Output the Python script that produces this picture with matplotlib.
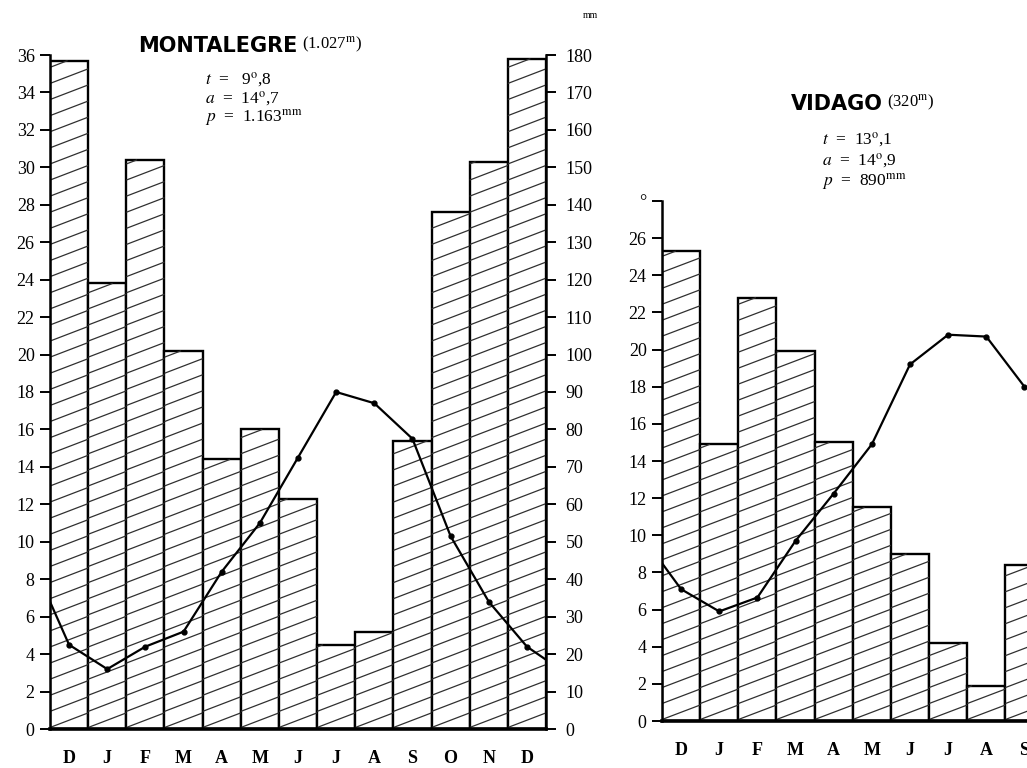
import numpy as np
import matplotlib
matplotlib.use('Agg')
import matplotlib.pyplot as plt
from matplotlib.collections import LineCollection

plt.rcParams['font.family'] = ['Liberation Serif', 'DejaVu Serif']
plt.rcParams['mathtext.fontset'] = 'stix'

# ── Data ────────────────────────────────────────────────────────────────────
MONTHS = ['D', 'J', 'F', 'M', 'A', 'M', 'J', 'J', 'A', 'S', 'O', 'N', 'D']
MM_PER_DEG = 5  # 1 °C on the left scale = 5 mm on the rain scale

# Montalegre: monthly rain (mm) and mean temperature (°C), D..D
mont_precip_mm = [178.5, 119, 152, 101, 72, 80, 61.5, 22.5, 26, 77, 138, 151.5, 179]
mont_temp = [4.5, 3.2, 4.4, 5.2, 8.4, 11.0, 14.5, 18.0, 17.4, 15.5, 10.3, 6.8, 4.4]
mont_temp_start = 6.8   # where the curve meets the left axis
mont_temp_end = 3.7     # where the curve meets the right axis

# Vidago: only D..S are inside the page
vid_precip_mm = [126.5, 74.5, 114, 99.5, 75, 57.5, 45, 21, 9.5, 42]
vid_temp = [7.1, 5.9, 6.65, 9.7, 12.25, 14.9, 19.2, 20.8, 20.7, 18.0]
vid_temp_start = 8.5

W, H = 1027, 768


def px_axes(fig, left, right, top, bottom):
    """Axes placed by pixel box (origin top-left)."""
    return fig.add_axes([left / W, 1 - bottom / H, (right - left) / W, (bottom - top) / H])


def hatch_bar(ax, bar, slope=0.78, step=0.86):
    """Shallow diagonal hatching, cut to the bar rectangle by hand."""
    x0, y0 = bar.get_x(), bar.get_y()
    w, h = bar.get_width(), bar.get_height()
    segs = []
    for o in np.arange(-w * slope, h, step):
        # line: y = y0 + o + slope * (x - x0)
        xa = x0 + max(0.0, -o / slope)
        xb = x0 + min(w, (h - o) / slope)
        if xb > xa:
            segs.append([(xa, y0 + o + slope * (xa - x0)),
                         (xb, y0 + o + slope * (xb - x0))])
    lc = LineCollection(segs, colors='#303030', linewidths=0.9, zorder=2.5)
    ax.add_collection(lc)


def draw_panel(ax, precip_mm, temps, t_start, t_end, ymax, tick_labels):
    n = len(precip_mm)
    x = np.arange(n)
    heights = np.array(precip_mm) / MM_PER_DEG
    bars = ax.bar(x, heights, width=1.0, facecolor='white', edgecolor='black',
                  linewidth=1.7, zorder=2)
    for b in bars:
        hatch_bar(ax, b)

    lx = [-0.5] + list(x)
    ly = [t_start] + list(temps)
    if t_end is not None:
        lx.append(n - 0.5)
        ly.append(t_end)
    ax.plot(lx, ly, color='black', lw=1.6, zorder=4)
    ax.plot(x, temps, 'o', color='black', ms=3.5, zorder=5)

    ax.set_xlim(-0.5, 12.5)
    ax.set_ylim(0, ymax)
    ax.set_xticks(x)
    ax.set_xticklabels(tick_labels, fontsize=13, fontweight='bold')
    ax.tick_params(axis='x', length=0, pad=15)
    yt = np.arange(0, ymax + 1, 2)
    ax.set_yticks(yt)
    ax.tick_params(axis='y', direction='out', length=7, width=1.4,
                   labelsize=13, pad=4)
    for s in ['top', 'right']:
        ax.spines[s].set_visible(False)
    ax.spines['left'].set_linewidth(1.8)
    ax.spines['bottom'].set_linewidth(2.6)
    ax.set_facecolor('none')
    return yt


fig = plt.figure(figsize=(W / 100, H / 100), dpi=100)
fig.patch.set_facecolor('white')

# ── Montalegre ─────────────────────────────────────────────────────────────
ax1 = px_axes(fig, 50, 546, 55, 729)
draw_panel(ax1, mont_precip_mm, mont_temp, mont_temp_start, mont_temp_end, 36, MONTHS)

ax1r = ax1.twinx()
ax1r.set_ylim(0, 36 * MM_PER_DEG)
ax1r.set_yticks(np.arange(0, 36 * MM_PER_DEG + 1, 10))
ax1r.tick_params(axis='y', direction='out', length=7, width=1.4, labelsize=13, pad=7)
for s in ['top', 'left', 'bottom']:
    ax1r.spines[s].set_visible(False)
ax1r.spines['right'].set_linewidth(1.8)
fig.text(590 / W, 1 - 16 / H, 'mm', fontsize=7, ha='center', va='center')

fig.text(297 / W, 1 - 46 / H, 'MONTALEGRE', family='DejaVu Sans', fontweight='bold',
         fontsize=15, ha='right', va='center')
fig.text(302 / W, 1 - 45 / H, r'(1.027$^{\rm m}$)', fontsize=12, ha='left', va='center')
fig.text(205 / W, 1 - 80 / H, r'$t$  =   9$^{\rm o}$,8', fontsize=12.5, ha='left', va='center')
fig.text(205 / W, 1 - 99 / H, r'$a$  =  14$^{\rm o}$,7', fontsize=12.5, ha='left', va='center')
fig.text(205 / W, 1 - 118 / H, r'$p$  =  1.163$^{\rm mm}$', fontsize=12.5, ha='left', va='center')

# ── Vidago (page cut on the right) ─────────────────────────────────────────
ax2 = px_axes(fig, 662, 1158, 201, 721)
yt = draw_panel(ax2, vid_precip_mm, vid_temp, vid_temp_start, None, 28,
                MONTHS[:len(vid_precip_mm)])
ax2.set_yticklabels([str(v) for v in yt[:-1]] + ['°'])

fig.text(883 / W, 1 - 104 / H, 'VIDAGO', family='DejaVu Sans', fontweight='bold',
         fontsize=15, ha='right', va='center')
fig.text(887 / W, 1 - 103 / H, r'(320$^{\rm m}$)', fontsize=12, ha='left', va='center')
fig.text(822 / W, 1 - 140 / H, r'$t$  =  13$^{\rm o}$,1', fontsize=12.5, ha='left', va='center')
fig.text(822 / W, 1 - 161 / H, r'$a$  =  14$^{\rm o}$,9', fontsize=12.5, ha='left', va='center')
fig.text(822 / W, 1 - 182 / H, r'$p$  =  890$^{\rm mm}$', fontsize=12.5, ha='left', va='center')

plt.savefig('out.png', dpi=100)
plt.close()
